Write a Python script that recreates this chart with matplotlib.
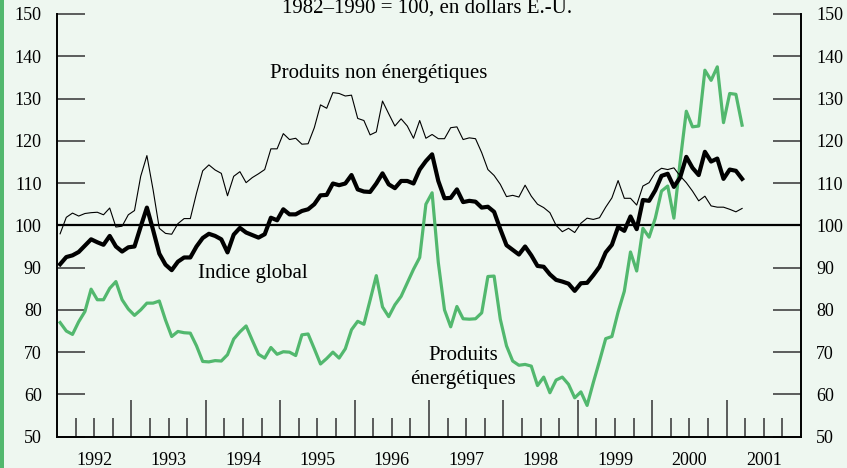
import matplotlib
matplotlib.use('Agg')
import matplotlib.pyplot as plt
import matplotlib.ticker as mticker
from matplotlib.patches import Rectangle

plt.rcParams['font.family'] = ['Liberation Serif', 'DejaVu Serif']

# monthly data, Jan 1992 .. Mar 2001 (1982-1990 = 100, US dollars)
START_YEAR = 1992

indice_global = [
    90.8, 92.5, 92.9, 93.7, 95.2, 96.7, 96.0, 95.4, 97.5, 95.0, 93.8, 94.8,
    95.0, 99.7, 104.2, 98.9, 93.3, 90.7, 89.4, 91.4, 92.4, 92.4, 95.0, 97.0,
    98.0, 97.5, 96.7, 93.6, 97.8, 99.4, 98.3, 97.7, 97.1, 97.9, 101.8, 101.2,
    103.8, 102.6, 102.6, 103.4, 103.8, 105.0, 107.1, 107.2, 109.9, 109.5, 109.9, 111.9,
    108.5, 108.0, 107.9, 109.9, 112.3, 109.7, 108.8, 110.5, 110.5, 109.9, 113.2, 115.2,
    116.8, 110.5, 106.4, 106.5, 108.5, 105.5, 105.8, 105.6, 104.2, 104.4, 103.2, 99.1,
    95.3, 94.2, 93.1, 95.0, 92.9, 90.4, 90.2, 88.4, 87.1, 86.7, 86.2, 84.5,
    86.3, 86.4, 88.2, 90.2, 93.6, 95.4, 99.6, 98.7, 102.1, 99.1, 106.0, 105.8,
    108.3, 111.7, 112.2, 109.1, 111.3, 116.2, 113.6, 111.9, 117.4, 115.1, 115.8, 111.0,
    113.2, 112.9, 111.0,
]

non_energie = [
    98.0, 101.9, 102.9, 102.2, 102.8, 103.0, 103.1, 102.5, 104.1, 99.6, 99.8, 102.5,
    103.5, 111.6, 116.5, 108.4, 99.3, 98.1, 97.9, 100.4, 101.6, 101.6, 107.6, 112.9,
    114.3, 113.1, 112.3, 107.0, 111.6, 112.7, 110.1, 111.3, 112.2, 113.2, 118.1, 118.1,
    121.7, 120.3, 120.6, 119.2, 119.3, 123.1, 128.5, 127.7, 131.4, 131.2, 130.6, 130.8,
    125.3, 124.8, 121.4, 122.1, 129.4, 126.4, 123.5, 125.2, 123.5, 120.6, 124.8, 120.6,
    121.5, 120.5, 120.5, 123.1, 123.3, 120.3, 120.7, 120.5, 117.2, 113.2, 111.8, 109.7,
    106.8, 107.1, 106.7, 109.5, 106.9, 105.0, 104.2, 103.0, 100.0, 98.5, 99.3, 98.3,
    100.5, 101.7, 101.4, 101.8, 104.3, 106.5, 110.6, 106.4, 106.4, 104.8, 109.3, 110.1,
    112.5, 113.5, 113.2, 113.6, 111.7, 110.1, 108.1, 105.8, 106.9, 104.6, 104.3, 104.3,
    103.8, 103.2, 104.0,
]

energie = [
    77.0, 75.0, 74.2, 77.2, 79.6, 84.9, 82.4, 82.4, 85.1, 86.7, 82.4, 80.2,
    78.7, 80.0, 81.6, 81.6, 82.1, 77.6, 73.7, 74.9, 74.6, 74.5, 71.5, 67.8,
    67.7, 68.0, 67.9, 69.4, 73.1, 74.8, 76.2, 72.8, 69.5, 68.6, 71.1, 69.5,
    70.1, 70.0, 69.2, 74.1, 74.3, 70.8, 67.2, 68.5, 70.0, 68.6, 70.8, 75.3,
    77.3, 76.6, 82.3, 88.1, 80.7, 78.4, 81.2, 83.2, 86.4, 89.6, 92.4, 105.0,
    107.7, 91.2, 80.0, 76.0, 80.8, 77.9, 77.8, 77.9, 79.3, 87.9, 88.0, 77.8,
    71.5, 67.9, 66.9, 67.1, 66.7, 62.1, 64.1, 60.4, 63.4, 64.1, 62.4, 59.2,
    60.6, 57.4, 62.8, 67.9, 73.2, 73.7, 79.5, 84.4, 93.7, 89.2, 99.3, 97.2,
    101.7, 108.1, 109.3, 101.7, 115.0, 127.0, 123.3, 123.5, 136.7, 134.3, 137.5, 124.3,
    131.2, 131.0, 123.7,
]

years = list(range(1992, 2002))
yticks = list(range(50, 151, 10))

BG = '#EEF7F0'
GREEN = '#52B86E'

months = [START_YEAR + (i + 0.5) / 12.0 for i in range(len(indice_global))]

fig = plt.figure(figsize=(8.47, 4.68), dpi=100, facecolor=BG)
ax = fig.add_axes([57 / 847, 31.3 / 468, 744 / 847, 422.7 / 468])
ax.set_facecolor(BG)

ax.axhline(100, color='black', lw=1.6, zorder=2)
ax.plot(months, energie, color=GREEN, lw=2.3, zorder=3)
ax.plot(months, non_energie, color='black', lw=0.8, zorder=3)
ax.plot(months, indice_global, color='black', lw=3.0, zorder=4)

ax.set_xlim(years[0], years[-1] + 1)
ax.set_ylim(yticks[0], yticks[-1])

for s in ['top']:
    ax.spines[s].set_visible(False)
for s in ['left', 'right', 'bottom']:
    ax.spines[s].set_linewidth(1.4)

# y ticks, both sides, pointing inward
ax.set_yticks(yticks)
ax.tick_params(axis='y', direction='in', length=20, width=1.1, color='#333333',
               left=True, right=True, labelleft=True, labelright=True,
               labelsize=13, pad=11)

# x: long ticks at year boundaries, short at quarters, labels mid-year
ax.set_xticks(years[1:])
ax.xaxis.set_major_formatter(mticker.NullFormatter())
quarters = [y + q / 4.0 for y in years for q in (1, 2, 3)]
ax.set_xticks(quarters, minor=True)


def year_label(x, pos):
    if abs((x % 1) - 0.5) < 1e-6:
        return str(int(x))
    return ''


ax.xaxis.set_minor_formatter(mticker.FuncFormatter(year_label))
ax.tick_params(axis='x', which='major', direction='in', length=27, width=1.1,
               color='#333333')
ax.tick_params(axis='x', which='minor', direction='in', length=14, width=1.1,
               color='#333333', labelsize=13, pad=11)

# labels
ax.text(1994.86, 134.9, 'Produits non énergétiques', fontsize=15,
        ha='left', va='baseline')
ax.text(1993.90, 87.5, 'Indice global', fontsize=15, ha='left', va='baseline')
ax.text(1997.46, 68.1, 'Produits', fontsize=15, ha='center', va='baseline')
ax.text(1997.46, 62.4, 'énergétiques', fontsize=15, ha='center', va='baseline')

fig.text(427 / 847, 1 - 13 / 468, '1982\u20131990 = 100, en dollars E.-U.',
         fontsize=15, ha='center', va='baseline')

# green strip on the left edge
fig.patches.append(Rectangle((0, 0), 4 / 847, 1, transform=fig.transFigure,
                             facecolor=GREEN, edgecolor='none'))

fig.savefig('out.png', dpi=100, facecolor=BG)
